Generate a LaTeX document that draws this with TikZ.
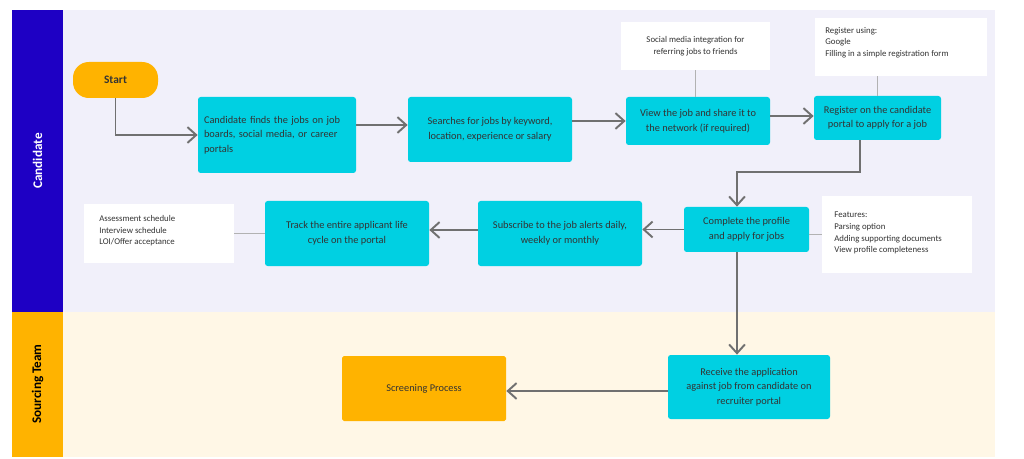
\documentclass[tikz,border=0pt]{standalone}
\usepackage{fontspec}
\setmainfont{Carlito}
\usetikzlibrary{arrows.meta}
\definecolor{lanebluebar}{HTML}{1E00C4}
\definecolor{lanebluebg}{HTML}{F1F0FA}
\definecolor{laneorange}{HTML}{FFB300}
\definecolor{laneorangebg}{HTML}{FFF7E6}
\definecolor{stepcyan}{HTML}{00D0E2}
\definecolor{linegray}{HTML}{707070}
\tikzset{
  procbox/.style={draw=none, fill=stepcyan, rounded corners=1.5pt, align=center, text=black!80, font=\fontsize{5.9}{8.3}\selectfont, inner sep=0pt},
  note/.style={fill=white, align=left, text=black!80, font=\fontsize{5}{7}\selectfont, inner sep=0pt},
  notetext/.style={anchor=north west, align=left, text=black!80, font=\fontsize{5}{6.6}\selectfont, inner sep=0pt},
  flow/.style={draw=linegray, line width=1.1pt, -{Straight Barb[length=5pt,width=9pt]}},
  tie/.style={draw=black!30, line width=0.6pt}
}
\begin{document}
\begin{tikzpicture}[x=0.02cm,y=-0.02cm]
\useasboundingbox (0,0) rectangle (1024,459);
% swim lanes
\fill[lanebluebg] (63,10) rectangle (995,312);
\fill[laneorangebg] (63,312) rectangle (995,457);
\fill[lanebluebar] (12,10) rectangle (63,312);
\fill[laneorange] (12,312) rectangle (63,457);
\node[rotate=90, text=white, font=\fontsize{7.5}{9}\selectfont\bfseries] (candlane) at (37.5,161) {Candidate};
\node[rotate=90, text=black, font=\fontsize{7.5}{9}\selectfont\bfseries] (sourcelane) at (37.5,384) {Sourcing Team};
% steps
\node[procbox, fill=laneorange, rounded corners=9pt, minimum width=85*0.02cm, minimum height=36*0.02cm, font=\fontsize{6.5}{8}\selectfont\bfseries] (start) at (115.5,80) {Start};
\node[procbox, align=left, minimum width=158*0.02cm, minimum height=76*0.02cm, text width=146*0.02cm] (find) at (277,135) {Candidate finds the jobs on job\\boards, social media, or career\\portals};
\node[procbox, minimum width=164*0.02cm, minimum height=65*0.02cm] (search) at (490,129.5) {Searches for jobs by keyword,\\location, experience or salary};
\node[procbox, minimum width=144*0.02cm, minimum height=48*0.02cm] (view) at (698,121) {View the job and share it  to\\the network (if required)};
\node[procbox, minimum width=127*0.02cm, minimum height=44*0.02cm] (register) at (877.5,118) {Register on the candidate\\portal  to apply for a job};
\node[procbox, minimum width=125*0.02cm, minimum height=45*0.02cm] (complete) at (746.5,229.5) {Complete the profile\\and apply for jobs};
\node[procbox, minimum width=164*0.02cm, minimum height=65*0.02cm] (subscribe) at (560,233.5) {Subscribe to the job alerts daily,\\weekly or monthly};
\node[procbox, minimum width=164*0.02cm, minimum height=65*0.02cm] (track) at (347,233.5) {Track the entire applicant life\\cycle on the portal};
\node[procbox, minimum width=162*0.02cm, minimum height=64*0.02cm] (receive) at (749,387) {Receive the application\\against job from candidate on\\recruiter portal};
\node[procbox, fill=laneorange, rounded corners=1pt, minimum width=164*0.02cm, minimum height=65*0.02cm] (screen) at (424,388.5) {Screening Process};
% notes
\node[note, align=center, minimum width=149*0.02cm, minimum height=48*0.02cm] (sharenote) at (695.5,46) {Social media integration for\\referring jobs to friends};
\node[note, minimum width=172*0.02cm, minimum height=58*0.02cm] (regnote) at (901,47) {};
\node[notetext] (regtext) at (825,27) {Register using:\\Google\\Filling in a simple registration form};
\node[note, minimum width=150*0.02cm, minimum height=77*0.02cm] (featnote) at (897,234.5) {};
\node[notetext] (feattext) at (834,212) {Features:\\Parsing option\\Adding supporting documents\\View profile completeness};
\node[note, minimum width=150*0.02cm, minimum height=59*0.02cm] (tracknote) at (159,233.5) {};
\node[notetext] (tracktext) at (99,215) {Assessment schedule\\Interview schedule\\LOI/Offer acceptance};
% notes ties
\draw[tie] (sharenote.south) -- (view.north -| sharenote.south);
\draw[tie] (regnote.south -| register.north) -- (register.north);
\draw[tie] (featnote.west) -- (complete.east |- featnote.west);
\draw[tie] (tracknote.east) -- (track.west);
% flow
\draw[flow] (start.south) |- (find.west);
\draw[flow] (find.east |- 0,125) -- (search.west |- 0,125);
\draw[flow] (search.east |- 0,121) -- (view.west |- 0,121);
\draw[flow] (view.east |- 0,116) -- (register.west |- 0,116);
\draw[flow] (register.south -| 860,0) |- (737,172) -- (complete.north -| 737,0);
\draw[flow] (complete.west) -- (subscribe.east |- complete.west);
\draw[flow] (subscribe.west |- 0,230) -- (track.east |- 0,230);
\draw[flow] (complete.south -| 737,0) -- (receive.north -| 737,0);
\draw[flow] (receive.west |- 0,391) -- (screen.east |- 0,391);
\end{tikzpicture}
\end{document}
